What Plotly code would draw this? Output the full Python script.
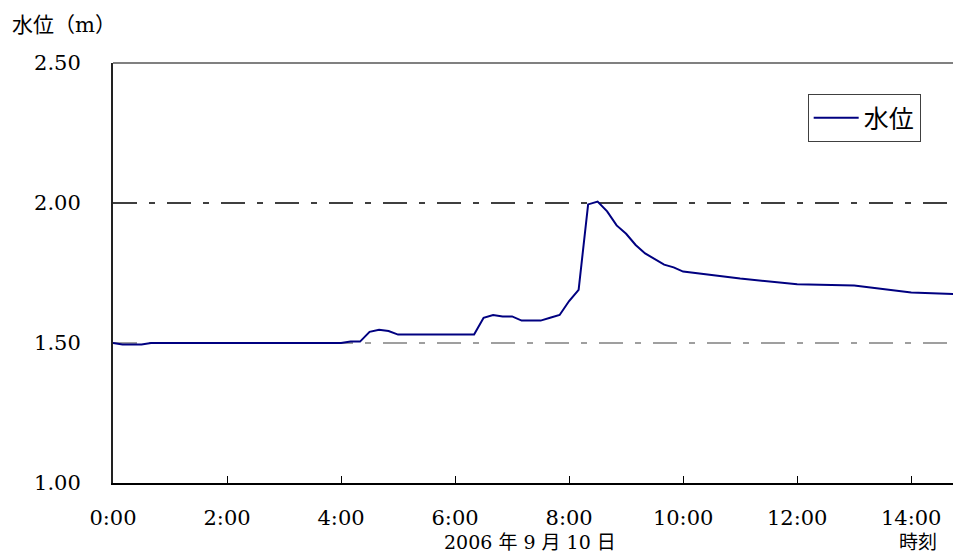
import plotly.graph_objects as go

# Time of day (H:MM) on 2006-09-10 and water level (m)
times = ["0:00", "0:10", "0:20", "0:30", "0:40", "1:00", "2:00", "3:00", "4:00",
         "4:10", "4:20", "4:30", "4:40", "4:50", "5:00", "6:00", "6:20",
         "6:30", "6:40", "6:50", "7:00", "7:10", "7:20", "7:30", "7:40", "7:50",
         "8:00", "8:10", "8:20", "8:30", "8:40", "8:50", "9:00", "9:10", "9:20",
         "9:30", "9:40", "9:50", "10:00", "11:00", "12:00", "13:00", "14:00", "14:44"]
levels = [1.50, 1.495, 1.495, 1.495, 1.50, 1.50, 1.50, 1.50, 1.50,
          1.505, 1.505, 1.54, 1.547, 1.543, 1.53, 1.53, 1.53,
          1.59, 1.60, 1.595, 1.595, 1.58, 1.58, 1.58, 1.59, 1.60,
          1.65, 1.69, 1.995, 2.005, 1.97, 1.92, 1.89, 1.85, 1.82,
          1.80, 1.78, 1.77, 1.755, 1.73, 1.71, 1.705, 1.68, 1.675]

x_ticks = [0, 2, 4, 6, 8, 10, 12, 14]
x_ticktext = ["0:00", "2:00", "4:00", "6:00", "8:00", "10:00", "12:00", "14:00"]
y_ticks = [1.00, 1.50, 2.00, 2.50]
y_ticktext = ["1.00", "1.50", "2.00", "2.50"]
ref_levels = [2.00, 1.50]
ref_colors = ["#000000", "#808080"]


def to_hours(t):
    h, m = t.split(":")
    return int(h) + int(m) / 60.0


xs = [to_hours(t) for t in times]

FONT = "DejaVu Serif, Liberation Serif, Noto Sans CJK JP"

fig = go.Figure()
fig.add_trace(go.Scatter(x=xs, y=levels, mode="lines", name="水位",
                         line=dict(color="#000080", width=2)))

for lv, col in zip(ref_levels, ref_colors):
    fig.add_shape(type="line", xref="paper", x0=0, x1=1, yref="y", y0=lv, y1=lv,
                  line=dict(color=col, width=1.5, dash="24px,12px,6px,12px"), layer="below")

# top border (grey)
fig.add_shape(type="line", xref="paper", x0=0, x1=1, yref="paper", y0=1, y1=1,
              line=dict(color="#808080", width=2))

fig.update_layout(
    width=953, height=555,
    margin=dict(l=113, r=0, t=63, b=72),
    paper_bgcolor="white", plot_bgcolor="white",
    font=dict(family=FONT, size=21, color="#000000"),
    showlegend=True,
    legend=dict(x=0.827, y=0.926, xanchor="left", yanchor="top",
                bordercolor="#404040", borderwidth=1, bgcolor="white",
                font=dict(family=FONT, size=25), itemwidth=45,
                tracegroupgap=0),
    xaxis=dict(range=[0, 14.733], tickvals=x_ticks, ticktext=x_ticktext,
               showgrid=False, zeroline=False, showline=True, linecolor="#000000",
               linewidth=1.5, ticks="inside", ticklen=7, tickcolor="#000000",
               tickwidth=1, ticklabelstandoff=15),
    yaxis=dict(range=[1.0, 2.5], tickvals=y_ticks, ticktext=y_ticktext,
               showgrid=False, zeroline=False, showline=True, linecolor="#222222",
               linewidth=2, ticks="", ticklabelstandoff=26),
    annotations=[
        dict(text="水位（m）", xref="paper", yref="paper", x=-0.1226, y=1.0,
             xanchor="left", yanchor="bottom", yshift=24, showarrow=False,
             font=dict(family=FONT, size=21)),
        dict(text="2006 年 9 月 10 日", xref="paper", yref="paper", x=0.496, y=0,
             xanchor="center", yanchor="top", yshift=-46, showarrow=False,
             font=dict(family=FONT, size=19)),
        dict(text="時刻", xref="paper", yref="paper", x=0.958, y=0,
             xanchor="center", yanchor="top", yshift=-46, showarrow=False,
             font=dict(family=FONT, size=19)),
    ],
)

fig.write_html("out.html")
